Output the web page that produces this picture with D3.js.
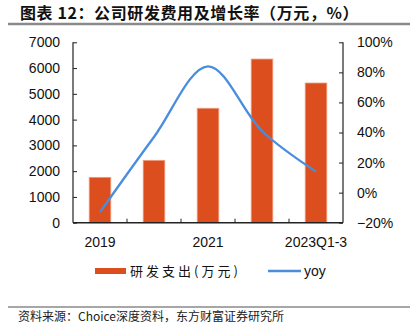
<!DOCTYPE html>
<html><head><meta charset="utf-8">
<script src="https://cdn.jsdelivr.net/npm/d3@7"></script>
<style>body{margin:0;background:#fff}svg{display:block}</style>
</head><body>
<script>
const categories = ["2019", "2020", "2021", "2022", "2023Q1-3"];
const rdSpend = [1760, 2420, 4440, 6350, 5420];
const yoy = [-13, 37, 84, 41, 14];
const leftTicks = [0, 1000, 2000, 3000, 4000, 5000, 6000, 7000];
const rightTicks = [-20, 0, 20, 40, 60, 80, 100];
const shownLabels = ["2019", "2021", "2023Q1-3"];
const title = "图表 12：公司研发费用及增长率（万元，%）";
const source = "资料来源：Choice深度资料，东方财富证券研究所";
const legendBar = "研发支出(万元)";
const legendLine = "yoy";

const W = 410, H = 335;
const svg = d3.select("body").append("svg").attr("width", W).attr("height", H);
const plot = {l: 73, r: 343, t: 42.3, b: 222.7};

svg.append("text").attr("x", 20).attr("y", 19).text(title)
  .attr("font-family", "Noto Sans CJK SC").attr("font-weight", "bold").attr("font-size", 16)
  .attr("letter-spacing", 0.6).attr("fill", "#111");
svg.append("line").attr("x1", 8).attr("x2", 410).attr("y1", 24).attr("y2", 24).attr("stroke", "#8a8a8a").attr("stroke-width", 2.5);
svg.append("line").attr("x1", 8).attr("x2", 410).attr("y1", 307).attr("y2", 307).attr("stroke", "#8a8a8a").attr("stroke-width", 1.5);
svg.append("text").attr("x", 18).attr("y", 321).text(source)
  .attr("font-family", "Noto Sans CJK SC").attr("font-size", 12).attr("fill", "#222");

const x = d3.scaleBand().domain(categories).range([plot.l, plot.r]).paddingInner(0.6).paddingOuter(0.3);
const yL = d3.scaleLinear().domain([0, 7000]).range([plot.b, plot.t]);
const yR = d3.scaleLinear().domain([-20, 100]).range([plot.b, plot.t]);

const g = svg.append("g");
g.selectAll("rect.bar").data(rdSpend).join("rect").attr("class", "bar")
  .attr("x", (d, i) => x(categories[i])).attr("width", x.bandwidth())
  .attr("y", d => yL(d)).attr("height", d => yL(0) - yL(d))
  .attr("fill", "#DD4E1E").attr("stroke", "#F09A7E").attr("stroke-width", 0.8);

const font = "Liberation Sans, Arial, sans-serif";
const la = svg.append("g").attr("transform", `translate(${plot.l},0)`)
  .call(d3.axisLeft(yL).tickValues(leftTicks).tickSize(-4).tickPadding(13).tickFormat(d3.format("d")));
const ra = svg.append("g").attr("transform", `translate(${plot.r},0)`)
  .call(d3.axisRight(yR).tickValues(rightTicks).tickSize(-4).tickPadding(14).tickFormat(d => d + "%"));
[la, ra].forEach(a => {
  a.select(".domain").attr("stroke", "#222").attr("stroke-width", 1.2).attr("d", `M0,${plot.t}V${plot.b}`);
  a.selectAll(".tick line").attr("stroke", "#222");
  a.selectAll("text").attr("font-family", font).attr("font-size", 14).attr("fill", "#111");
});
ra.selectAll("text").text(d => d < 0 ? "\u2212" + Math.abs(d) + "%" : d + "%");

const step = x.step();
const ba = svg.append("g").attr("transform", `translate(0,${plot.b})`);
ba.append("line").attr("x1", plot.l).attr("x2", plot.r).attr("stroke", "#222").attr("stroke-width", 1.5);
ba.selectAll("line.tk").data(categories.slice(1)).join("line").attr("class", "tk")
  .attr("x1", d => x(d) - x.paddingInner() * step / 2).attr("x2", d => x(d) - x.paddingInner() * step / 2)
  .attr("y1", 0).attr("y2", -4).attr("stroke", "#222");
ba.selectAll("text").data(shownLabels).join("text")
  .attr("x", d => x(d) + x.bandwidth() / 2).attr("y", 24).attr("text-anchor", "middle")
  .attr("font-family", font).attr("font-size", 14).attr("fill", "#111").text(d => d);

const line = d3.line().x((d, i) => x(categories[i]) + x.bandwidth() / 2).y(d => yR(d)).curve(d3.curveCatmullRom.alpha(0.5));
svg.append("path").datum(yoy).attr("d", line).attr("fill", "none").attr("stroke", "#4A8DDC").attr("stroke-width", 2.3);

svg.append("rect").attr("x", 95).attr("y", 268).attr("width", 31).attr("height", 6).attr("fill", "#DD4E1E");
svg.append("text").attr("x", 130).attr("y", 276).text(legendBar).attr("font-family", "Noto Sans CJK SC")
  .attr("font-size", 13).attr("letter-spacing", 3).attr("fill", "#111");
svg.append("line").attr("x1", 268).attr("x2", 301).attr("y1", 271).attr("y2", 271).attr("stroke", "#4A8DDC").attr("stroke-width", 2.3);
svg.append("text").attr("x", 304).attr("y", 276).text(legendLine).attr("font-family", font).attr("font-size", 14).attr("fill", "#111");
</script>
</body></html>
